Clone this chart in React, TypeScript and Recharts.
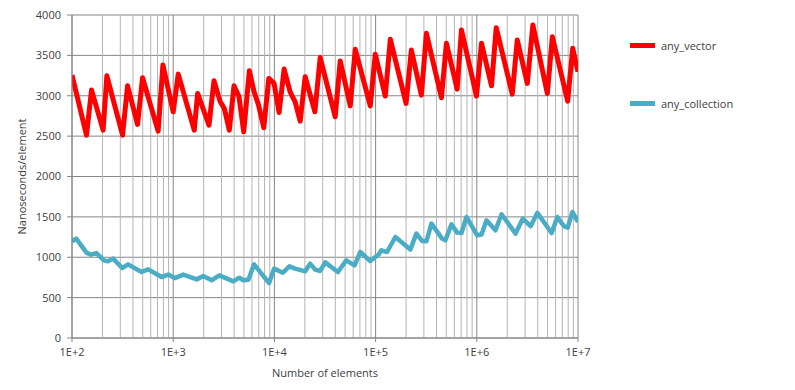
import { LineChart, Line, XAxis, YAxis, CartesianGrid, Legend, ReferenceLine } from "recharts";

// element counts (log scale) and timings
const vectorN = [100, 139, 156, 203, 221, 316, 354, 444, 498, 710, 791, 1000, 1121, 1614, 1744, 2257, 2529, 2900, 3199, 3585, 3990, 4472, 4977, 5656, 6295, 6943, 7852, 8800, 9931, 11130, 12474, 14300, 16030, 17970, 20140, 25120, 28350, 39900, 44700, 56180, 62950, 88600, 99300, 124700, 139800, 200000, 225700, 283500, 317700, 447300, 501000, 639700, 705600, 993000, 1113000, 1398000, 1556000, 2241000, 2512000, 3155000, 3581000, 4977000, 5580000, 7907000, 8863000, 10000000];
const vectorNs = [3256, 2512, 3070, 2574, 3247, 2512, 3123, 2645, 3223, 2562, 3380, 2801, 3268, 2574, 3029, 2636, 3185, 2933, 2843, 2574, 3123, 2987, 2553, 3309, 3049, 2893, 2603, 3215, 3153, 2793, 3330, 3049, 2925, 2686, 3235, 2801, 3473, 2739, 3430, 2875, 3575, 2875, 3513, 2996, 3699, 2905, 3566, 3008, 3773, 2975, 3649, 3082, 3814, 2996, 3649, 3123, 3843, 3020, 3690, 3153, 3876, 3029, 3731, 2933, 3587, 3297];

const collectionN = [100, 110, 139, 153, 174, 207, 227, 255, 313, 358, 486, 566, 767, 892, 1039, 1256, 1578, 1705, 1982, 2399, 2854, 3927, 4503, 4932, 5529, 6295, 8863, 9931, 12110, 14080, 16030, 20140, 22570, 25290, 28350, 31770, 42440, 51290, 61950, 70560, 88600, 107100, 113900, 129700, 156700, 220600, 252900, 288000, 317700, 356100, 454400, 489800, 561700, 639700, 705600, 790700, 1009000, 1113000, 1247000, 1531000, 1757000, 2416000, 2854000, 3402000, 3963000, 5490000, 6252000, 7266000, 7907000, 8804000, 10000000];
const collectionNs = [1198, 1231, 1057, 1032, 1052, 962, 950, 983, 866, 912, 817, 850, 755, 785, 742, 785, 742, 726, 767, 714, 776, 702, 747, 714, 722, 912, 680, 859, 809, 888, 859, 826, 921, 847, 830, 937, 817, 962, 900, 1065, 953, 1033, 1086, 1065, 1251, 1095, 1293, 1202, 1198, 1417, 1231, 1210, 1408, 1305, 1300, 1499, 1272, 1281, 1458, 1334, 1532, 1293, 1479, 1384, 1549, 1300, 1499, 1384, 1367, 1561, 1437];

const seriesNames = ["any_vector", "any_collection"];
const decades = [100, 1000, 10000, 100000, 1000000, 10000000];
const minorSteps = [2, 3, 4, 5, 6, 7, 8, 9];
const yTicks = [0, 500, 1000, 1500, 2000, 2500, 3000, 3500, 4000];

const vectorData = vectorN.map((n, i) => ({ n, ns: vectorNs[i] }));
const collectionData = collectionN.map((n, i) => ({ n, ns: collectionNs[i] }));
const minorLines = decades.slice(0, -1).flatMap(d => minorSteps.map(m => d * m));

const FONT = "'Open Sans', sans-serif";
const TXT = "#404040";

const fmtExp = (v: number) => `1E+${Math.round(Math.log10(v))}`;

const LegendBox = ({ payload }: any) => {
  const items = [...(payload || [])].sort((a: any, b: any) => seriesNames.indexOf(a.value) - seriesNames.indexOf(b.value));
  return (
    <div style={{ fontFamily: FONT, fontSize: 11, color: TXT }}>
      {items.map((p: any) => (
        <div key={p.value} style={{ display: "flex", alignItems: "center", height: 20, marginBottom: 38 }}>
          <div style={{ width: 25, height: 5, background: p.color, marginRight: 6 }} />
          <span>{p.value}</span>
        </div>
      ))}
    </div>
  );
};

export default function App() {
  return (
    <div style={{ position: "absolute", left: 0, top: 0, width: 795, height: 390, background: "#fff" }}>
      <LineChart width={795} height={390} margin={{ top: 15, right: 67, bottom: 7, left: 0 }}>
        <CartesianGrid vertical={false} stroke="#868686" strokeWidth={1} />
        {minorLines.map(v => (
          <ReferenceLine key={v} x={v} stroke="#b4b4b4" strokeWidth={1} />
        ))}
        {decades.map(v => (
          <ReferenceLine key={"d" + v} x={v} stroke="#868686" strokeWidth={1} />
        ))}
        <XAxis
          type="number"
          dataKey="n"
          scale="log"
          domain={[100, 10000000]}
          ticks={decades}
          tickFormatter={fmtExp}
          allowDataOverflow
          height={45}
          tick={{ fontSize: 11, fill: TXT, fontFamily: FONT }}
          tickSize={4}
          tickMargin={6}
          stroke="#868686"
          label={{ value: "Number of elements", position: "insideBottom", offset: 6, style: { fontSize: 11, fill: TXT, fontFamily: FONT } }}
        />
        <YAxis
          type="number"
          domain={[0, 4000]}
          ticks={yTicks}
          width={72}
          tick={{ fontSize: 11, fill: TXT, fontFamily: FONT }}
          tickSize={5}
          tickMargin={6}
          stroke="#868686"
          label={{ value: "Nanoseconds/element", angle: -90, position: "insideLeft", offset: 22, style: { fontSize: 11, fill: TXT, fontFamily: FONT, textAnchor: "middle" } }}
        />
        <Legend
          layout="vertical"
          align="right"
          verticalAlign="top"
          content={<LegendBox />}
          wrapperStyle={{ position: "absolute", left: 630, top: 35, width: 150 }}
        />
        <Line data={vectorData} dataKey="ns" name="any_vector" stroke="#ff0000" strokeWidth={5} dot={false} isAnimationActive={false} strokeLinejoin="round" />
        <Line data={collectionData} dataKey="ns" name="any_collection" stroke="#4bacc6" strokeWidth={4.5} dot={false} isAnimationActive={false} strokeLinejoin="round" />
      </LineChart>
    </div>
  );
}
